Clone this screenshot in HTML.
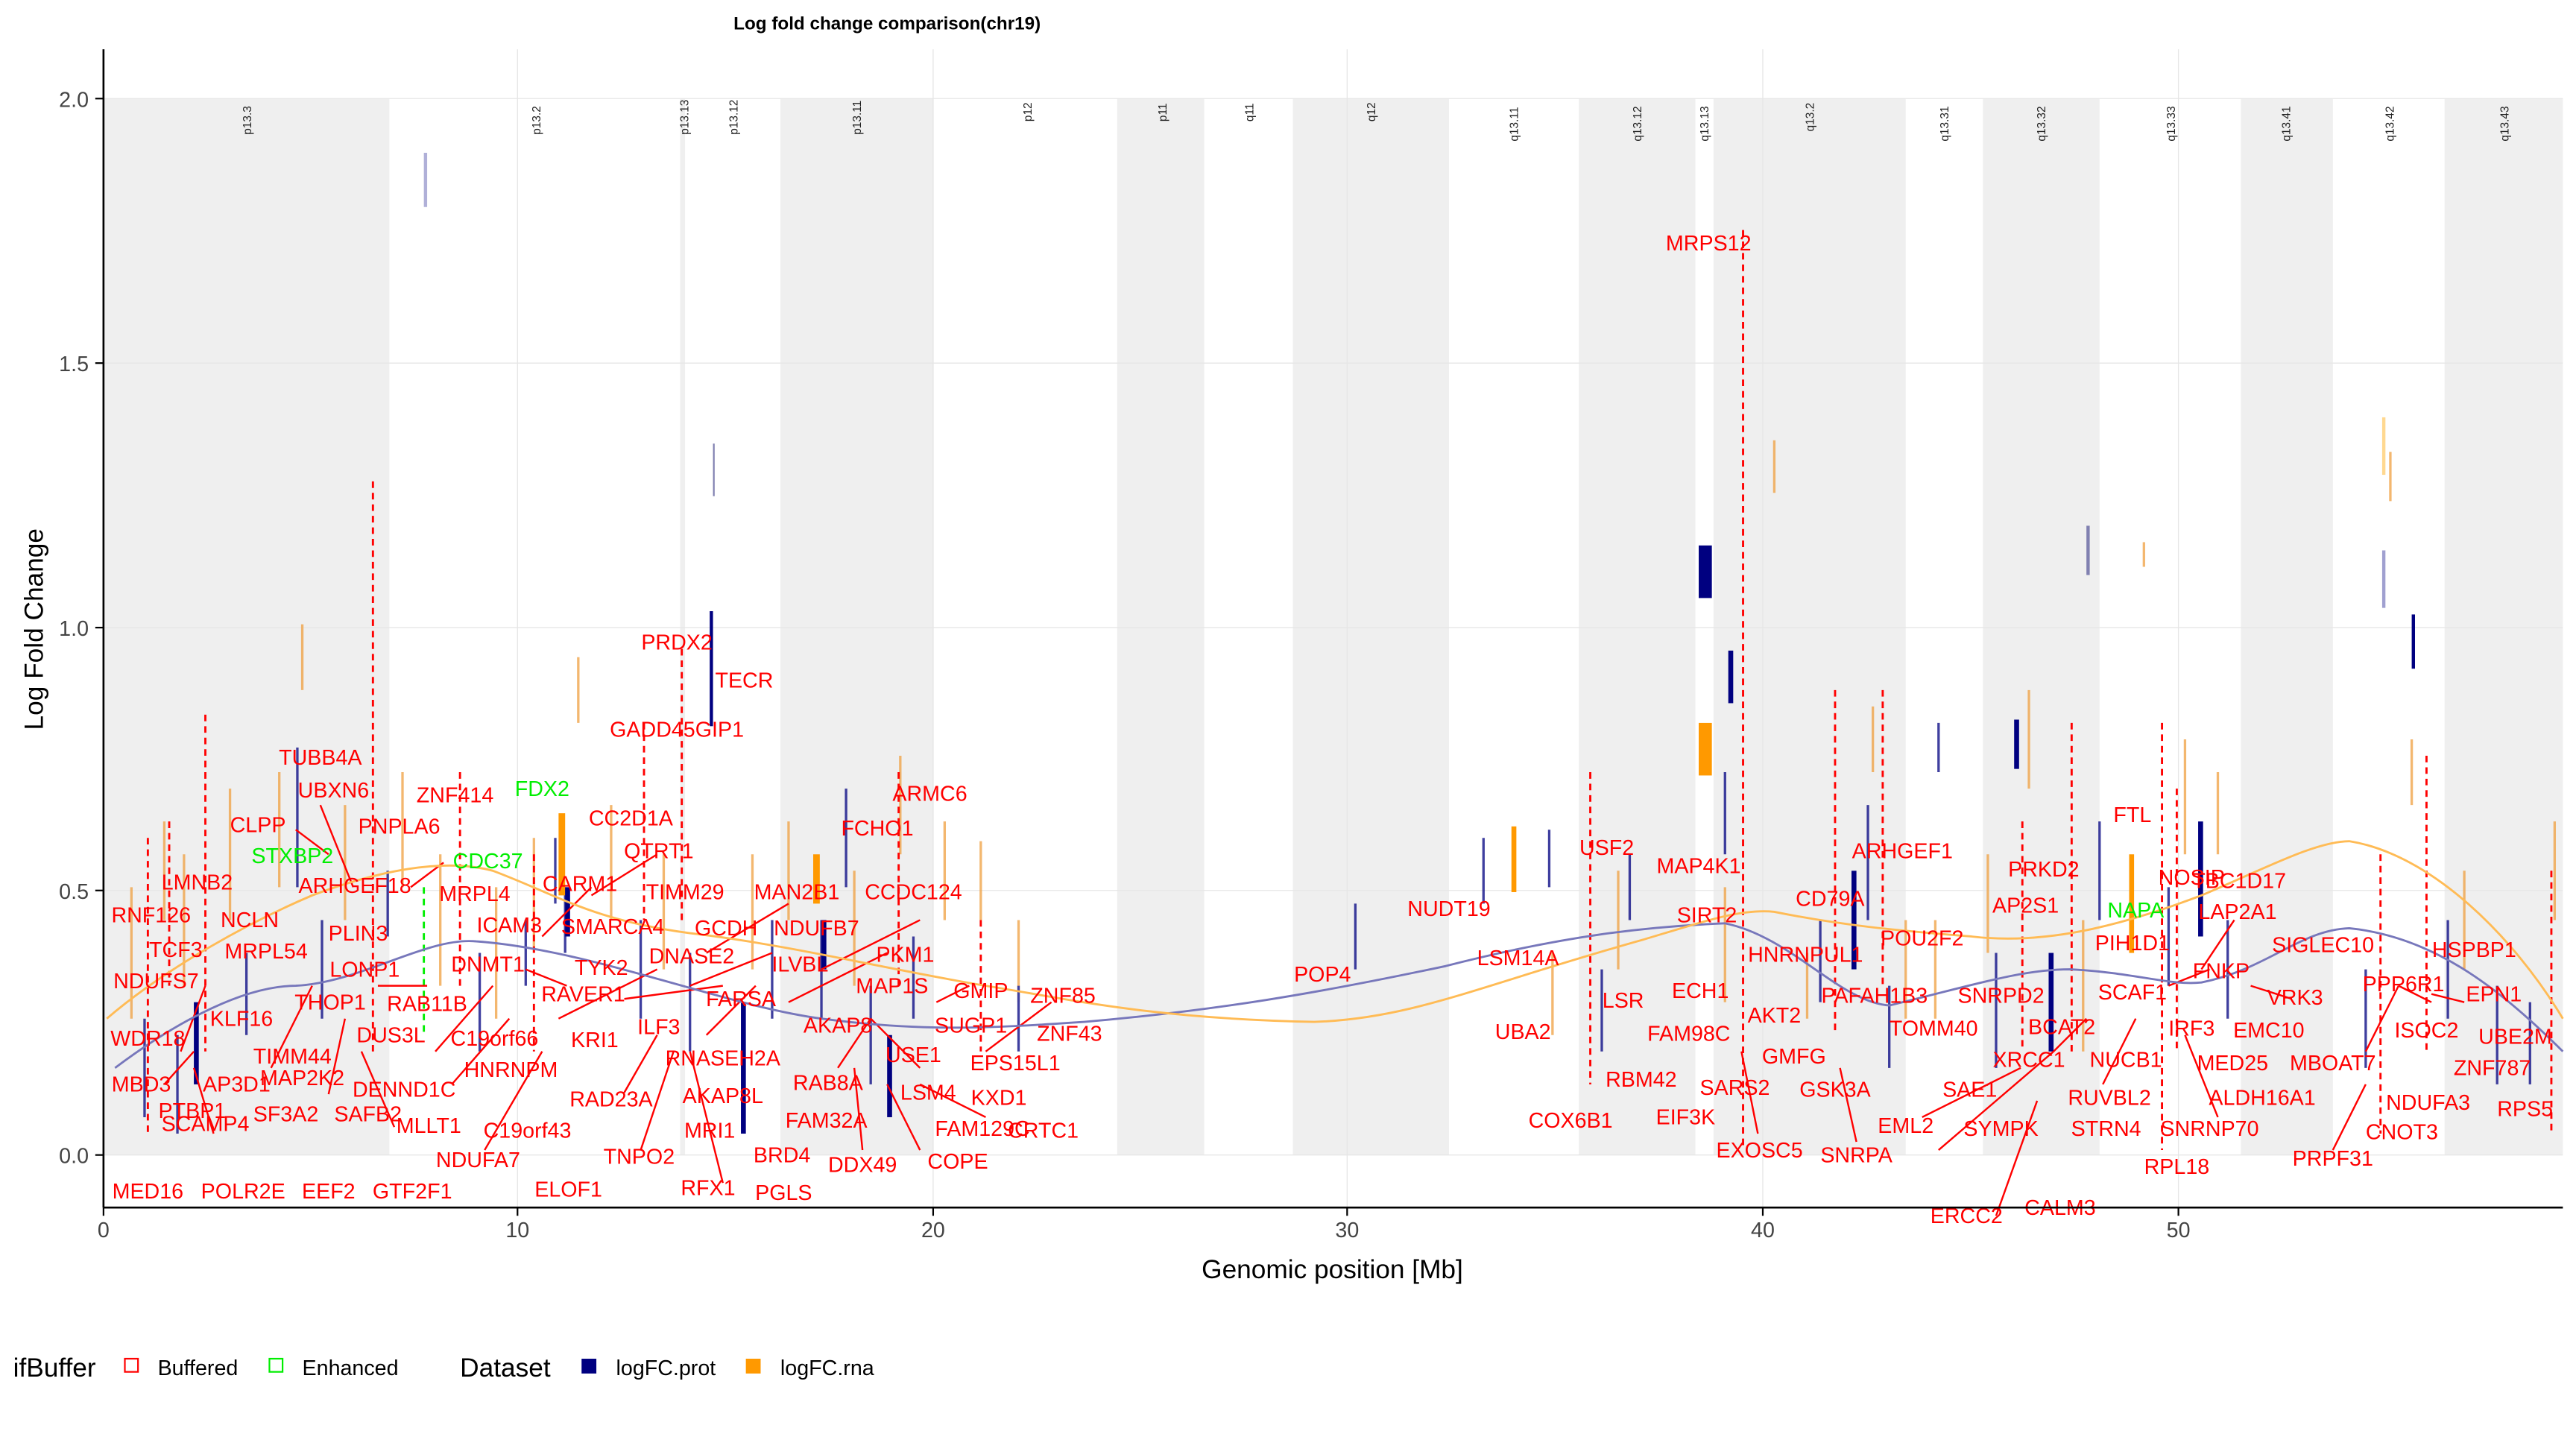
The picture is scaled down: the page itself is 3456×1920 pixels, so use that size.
<!DOCTYPE html>
<html><head><meta charset="utf-8"><style>
html,body{margin:0;padding:0;background:#fff;}
svg{display:block;}
text{font-family:"Liberation Sans",Arial,sans-serif;}
.g{fill:#ff0000;font-size:13px;text-anchor:middle;dominant-baseline:middle;}
.gr{fill:#00ee00;font-size:13px;text-anchor:middle;dominant-baseline:middle;}
.b{font-size:7px;fill:#222;}
.t{font-size:13px;fill:#444;text-anchor:middle;}
</style></head><body>
<svg width="3456" height="1920" viewBox="0 0 1568 871" preserveAspectRatio="none">
<rect width="1568" height="871" fill="#fff"/>
<g fill="#efefef">
<rect x="63" y="60" width="174" height="643"/>
<rect x="414" y="60" width="3" height="643"/>
<rect x="475" y="60" width="93" height="643"/>
<rect x="680" y="60" width="53" height="643"/>
<rect x="787" y="60" width="95" height="643"/>
<rect x="961" y="60" width="71" height="643"/>
<rect x="1043" y="60" width="117" height="643"/>
<rect x="1207" y="60" width="71" height="643"/>
<rect x="1364" y="60" width="56" height="643"/>
<rect x="1488" y="60" width="72" height="643"/>
</g>
<g stroke="#e6e6e6" stroke-width="0.6">
<line x1="63" x2="1560" y1="60" y2="60"/><line x1="63" x2="1560" y1="221" y2="221"/>
<line x1="63" x2="1560" y1="382" y2="382"/><line x1="63" x2="1560" y1="542" y2="542"/>
<line x1="63" x2="1560" y1="703" y2="703"/>
<line x1="315" x2="315" y1="30" y2="735"/><line x1="568" x2="568" y1="30" y2="735"/>
<line x1="820" x2="820" y1="30" y2="735"/><line x1="1073" x2="1073" y1="30" y2="735"/>
<line x1="1326" x2="1326" y1="30" y2="735"/>
</g>
<g class="b">
<text transform="translate(153,82) rotate(-90)">p13.3</text>
<text transform="translate(329,82) rotate(-90)">p13.2</text>
<text transform="translate(419,82) rotate(-90)">p13.13</text>
<text transform="translate(449,82) rotate(-90)">p13.12</text>
<text transform="translate(524,82) rotate(-90)">p13.11</text>
<text transform="translate(628,74) rotate(-90)">p12</text>
<text transform="translate(710,74) rotate(-90)">p11</text>
<text transform="translate(763,74) rotate(-90)">q11</text>
<text transform="translate(837,74) rotate(-90)">q12</text>
<text transform="translate(924,86) rotate(-90)">q13.11</text>
<text transform="translate(999,86) rotate(-90)">q13.12</text>
<text transform="translate(1040,86) rotate(-90)">q13.13</text>
<text transform="translate(1104,80) rotate(-90)">q13.2</text>
<text transform="translate(1186,86) rotate(-90)">q13.31</text>
<text transform="translate(1245,86) rotate(-90)">q13.32</text>
<text transform="translate(1324,86) rotate(-90)">q13.33</text>
<text transform="translate(1394,86) rotate(-90)">q13.41</text>
<text transform="translate(1457,86) rotate(-90)">q13.42</text>
<text transform="translate(1527,86) rotate(-90)">q13.43</text>
</g>
<text x="540" y="18" font-size="11" font-weight="bold" text-anchor="middle">Log fold change comparison(chr19)</text>
<!-- thin faint bars -->
<g stroke-width="1.5" opacity="0.75">
<g stroke="#f0a040">
<line x1="80" y1="540" x2="80" y2="620"/><line x1="100" y1="500" x2="100" y2="560"/><line x1="112" y1="520" x2="112" y2="600"/>
<line x1="140" y1="480" x2="140" y2="560"/><line x1="184" y1="380" x2="184" y2="420"/><line x1="170" y1="470" x2="170" y2="540"/>
<line x1="210" y1="490" x2="210" y2="560"/><line x1="245" y1="470" x2="245" y2="540"/><line x1="268" y1="520" x2="268" y2="600"/>
<line x1="302" y1="540" x2="302" y2="620"/><line x1="325" y1="510" x2="325" y2="580"/><line x1="352" y1="400" x2="352" y2="440"/>
<line x1="372" y1="490" x2="372" y2="560"/><line x1="404" y1="520" x2="404" y2="590"/><line x1="458" y1="520" x2="458" y2="590"/>
<line x1="480" y1="500" x2="480" y2="560"/><line x1="520" y1="530" x2="520" y2="600"/><line x1="548" y1="460" x2="548" y2="520"/>
<line x1="575" y1="500" x2="575" y2="560"/><line x1="620" y1="560" x2="620" y2="610"/><line x1="945" y1="580" x2="945" y2="630"/>
<line x1="985" y1="530" x2="985" y2="590"/><line x1="1050" y1="540" x2="1050" y2="610"/><line x1="1100" y1="580" x2="1100" y2="620"/>
<line x1="1140" y1="430" x2="1140" y2="470"/><line x1="1160" y1="560" x2="1160" y2="620"/><line x1="1178" y1="560" x2="1178" y2="620"/>
<line x1="1210" y1="520" x2="1210" y2="580"/><line x1="1235" y1="420" x2="1235" y2="480"/><line x1="1268" y1="560" x2="1268" y2="640"/>
<line x1="1305" y1="330" x2="1305" y2="345"/><line x1="1330" y1="450" x2="1330" y2="520"/><line x1="1350" y1="470" x2="1350" y2="520"/>
<line x1="1455" y1="275" x2="1455" y2="305"/><line x1="1468" y1="450" x2="1468" y2="490"/><line x1="1500" y1="530" x2="1500" y2="590"/>
<line x1="1555" y1="500" x2="1555" y2="560"/><line x1="1080" y1="268" x2="1080" y2="300"/><line x1="597" y1="512" x2="597" y2="560"/>
</g>
<g stroke="#000080">
<line x1="88" y1="620" x2="88" y2="680"/><line x1="108" y1="630" x2="108" y2="690"/><line x1="150" y1="580" x2="150" y2="630"/>
<line x1="181" y1="455" x2="181" y2="540"/><line x1="196" y1="560" x2="196" y2="620"/><line x1="236" y1="530" x2="236" y2="570"/>
<line x1="292" y1="580" x2="292" y2="640"/><line x1="320" y1="560" x2="320" y2="600"/><line x1="338" y1="510" x2="338" y2="550"/>
<line x1="344" y1="540" x2="344" y2="580"/><line x1="390" y1="560" x2="390" y2="620"/><line x1="420" y1="580" x2="420" y2="640"/>
<line x1="470" y1="560" x2="470" y2="620"/><line x1="500" y1="560" x2="500" y2="620"/><line x1="515" y1="480" x2="515" y2="540"/>
<line x1="530" y1="600" x2="530" y2="660"/><line x1="556" y1="570" x2="556" y2="620"/><line x1="620" y1="600" x2="620" y2="640"/>
<line x1="825" y1="550" x2="825" y2="590"/><line x1="903" y1="510" x2="903" y2="550"/><line x1="943" y1="505" x2="943" y2="540"/>
<line x1="975" y1="590" x2="975" y2="640"/><line x1="992" y1="520" x2="992" y2="560"/><line x1="1050" y1="470" x2="1050" y2="520"/>
<line x1="1108" y1="560" x2="1108" y2="610"/><line x1="1137" y1="490" x2="1137" y2="560"/><line x1="1150" y1="600" x2="1150" y2="650"/>
<line x1="1180" y1="440" x2="1180" y2="470"/><line x1="1215" y1="580" x2="1215" y2="650"/><line x1="1278" y1="500" x2="1278" y2="560"/>
<line x1="1320" y1="540" x2="1320" y2="600"/><line x1="1356" y1="560" x2="1356" y2="620"/><line x1="1440" y1="590" x2="1440" y2="650"/>
<line x1="1490" y1="560" x2="1490" y2="620"/><line x1="1520" y1="600" x2="1520" y2="660"/><line x1="1540" y1="610" x2="1540" y2="660"/>
</g>
</g>
<!-- bars -->
<g>
<rect x="1034" y="332" width="8" height="32" fill="#000080"/>
<rect x="1034" y="440" width="8" height="32" fill="#ff9900"/>
<rect x="1052" y="396" width="3" height="32" fill="#000080"/>
<rect x="920" y="503" width="3" height="40" fill="#ff9900"/>
<rect x="432" y="372" width="2" height="70" fill="#000080"/>
<rect x="1226" y="438" width="3" height="30" fill="#000080"/>
<rect x="1468" y="374" width="2" height="33" fill="#000080"/>
<rect x="495" y="520" width="4" height="30" fill="#ff9900"/>
<rect x="340" y="495" width="4" height="50" fill="#ff9900"/>
<rect x="258" y="93" width="2" height="33" fill="#b0b0d8"/>
<rect x="434" y="270" width="1" height="32" fill="#8080b0"/>
<rect x="1450" y="254" width="2" height="35" fill="#ffd890"/>
<rect x="1450" y="335" width="2" height="35" fill="#a0a0d0"/>
<rect x="1270" y="320" width="2" height="30" fill="#8080b0"/>
<rect x="1127" y="530" width="3" height="60" fill="#000080"/>
<rect x="1296" y="520" width="3" height="60" fill="#ff9900"/>
<rect x="1338" y="500" width="3" height="70" fill="#000080"/>
<rect x="118" y="610" width="3" height="50" fill="#000080"/>
<rect x="451" y="610" width="3" height="80" fill="#000080"/>
<rect x="540" y="630" width="3" height="50" fill="#000080"/>
<rect x="1247" y="580" width="3" height="60" fill="#000080"/>
<rect x="500" y="560" width="3" height="30" fill="#000080"/>
<rect x="344" y="540" width="3" height="30" fill="#000080"/>
</g>
<!-- dashed red lines -->
<g stroke="#ff0000" stroke-width="1.3" stroke-dasharray="4,3" fill="none">
<line x1="227" y1="293" x2="227" y2="640"/>
<line x1="1061" y1="140" x2="1061" y2="700"/>
<line x1="968" y1="470" x2="968" y2="660"/>
<line x1="415" y1="395" x2="415" y2="560"/>
<line x1="125" y1="435" x2="125" y2="640"/>
<line x1="90" y1="510" x2="90" y2="690"/>
<line x1="392" y1="440" x2="392" y2="560"/>
<line x1="1117" y1="420" x2="1117" y2="630"/>
<line x1="1146" y1="420" x2="1146" y2="600"/>
<line x1="1261" y1="440" x2="1261" y2="640"/>
<line x1="1316" y1="440" x2="1316" y2="700"/>
<line x1="1477" y1="460" x2="1477" y2="640"/>
<line x1="1553" y1="530" x2="1553" y2="690"/>
<line x1="547" y1="470" x2="547" y2="600"/>
<line x1="597" y1="560" x2="597" y2="640"/>
<line x1="280" y1="470" x2="280" y2="600"/>
<line x1="1231" y1="500" x2="1231" y2="640"/>
<line x1="1449" y1="520" x2="1449" y2="690"/>
<line x1="103" y1="500" x2="103" y2="600"/>
<line x1="325" y1="520" x2="325" y2="640"/>
<line x1="1325" y1="480" x2="1325" y2="640"/>
</g>
<line x1="258" y1="540" x2="258" y2="630" stroke="#00ee00" stroke-width="1.3" stroke-dasharray="4,3"/>
<!-- leader lines -->
<g stroke="#ff0000" stroke-width="1.1" fill="none">
<path d="M110,640 L125,600"/><path d="M100,660 L118,640"/><path d="M130,690 L118,650"/>
<path d="M165,650 L190,600"/><path d="M200,666 L210,620"/><path d="M240,686 L220,640"/>
<path d="M180,505 L200,520"/><path d="M195,490 L215,540"/><path d="M250,540 L270,525"/>
<path d="M230,600 L260,600"/><path d="M265,640 L300,600"/><path d="M275,660 L310,620"/>
<path d="M295,700 L330,640"/><path d="M320,590 L345,600"/><path d="M330,570 L360,540"/>
<path d="M360,545 L400,520"/><path d="M380,608 L440,600"/><path d="M340,620 L400,590"/>
<path d="M380,665 L400,630"/><path d="M390,700 L410,640"/><path d="M420,600 L470,580"/>
<path d="M430,580 L480,550"/><path d="M430,630 L460,600"/><path d="M440,720 L420,640"/>
<path d="M480,610 L540,580"/><path d="M500,590 L560,560"/><path d="M510,650 L530,620"/>
<path d="M525,700 L520,650"/><path d="M560,650 L530,620"/><path d="M600,640 L640,610"/>
<path d="M570,610 L590,600"/><path d="M560,700 L540,660"/><path d="M600,680 L560,660"/>
<path d="M1070,690 L1060,640"/><path d="M1130,695 L1120,650"/><path d="M1170,680 L1230,650"/>
<path d="M1180,700 L1250,640"/><path d="M1215,740 L1240,670"/><path d="M1250,640 L1270,620"/>
<path d="M1280,660 L1300,620"/><path d="M1320,600 L1345,590"/><path d="M1340,590 L1360,560"/>
<path d="M1370,600 L1395,608"/><path d="M1350,680 L1330,630"/><path d="M1440,640 L1460,600"/>
<path d="M1460,600 L1480,610"/><path d="M1500,610 L1480,605"/><path d="M1420,700 L1440,660"/>
</g>
<!-- curves -->
<path d="M70,650 C110,620 150,600 180,600 C220,598 260,570 290,573 C360,578 440,612 500,620 C560,628 600,626 660,622 C740,615 800,605 880,588 C950,570 1000,564 1050,562 C1090,570 1120,610 1150,612 C1200,600 1230,590 1260,590 C1300,592 1320,600 1340,598 C1380,590 1400,566 1430,565 C1480,570 1520,600 1560,640" fill="none" stroke="#7777bb" stroke-width="1.3"/>
<path d="M65,620 C100,590 150,562 190,545 C230,530 270,522 300,530 C340,545 360,560 420,568 C480,575 540,590 600,600 C650,608 700,620 800,622 C860,620 900,600 1000,572 C1040,560 1060,553 1080,555 C1120,563 1150,566 1200,570 C1250,576 1300,560 1340,545 C1380,528 1410,512 1430,512 C1480,520 1530,570 1560,620" fill="none" stroke="#ffbb55" stroke-width="1.3"/>
<!-- labels -->
<g class="g">
<text x="92" y="558">RNF126</text><text x="120" y="538">LMNB2</text><text x="107" y="579">TCF3</text>
<text x="95" y="598">NDUFS7</text><text x="90" y="633">WDR18</text><text x="86" y="661">MBD3</text>
<text x="90" y="726">MED16</text><text x="117" y="677">PTBP1</text><text x="125" y="685">SCAMP4</text>
<text x="148" y="726">POLR2E</text><text x="144" y="661">AP3D1</text><text x="147" y="621">KLF16</text>
<text x="178" y="644">TIMM44</text><text x="174" y="679">SF3A2</text><text x="184" y="657">MAP2K2</text>
<text x="200" y="726">EEF2</text><text x="224" y="679">SAFB2</text><text x="251" y="726">GTF2F1</text>
<text x="261" y="686">MLLT1</text><text x="246" y="664">DENND1C</text><text x="238" y="631">DUS3L</text>
<text x="260" y="612">RAB11B</text><text x="201" y="611">THOP1</text><text x="222" y="591">LONP1</text>
<text x="218" y="569">PLIN3</text><text x="162" y="580">MRPL54</text><text x="152" y="561">NCLN</text>
<text x="157" y="503">CLPP</text><text x="216" y="540">ARHGEF18</text><text x="203" y="482">UBXN6</text>
<text x="195" y="462">TUBB4A</text><text x="243" y="504">PNPLA6</text><text x="277" y="485">ZNF414</text>
<text x="289" y="545">MRPL4</text><text x="310" y="564">ICAM3</text><text x="297" y="588">DNMT1</text>
<text x="301" y="633">C19orf66</text><text x="311" y="652">HNRNPM</text><text x="291" y="707">NDUFA7</text>
<text x="321" y="689">C19orf43</text><text x="353" y="539">CARM1</text><text x="384" y="499">CC2D1A</text>
<text x="401" y="519">QTRT1</text><text x="417" y="544">TIMM29</text><text x="373" y="565">SMARCA4</text>
<text x="366" y="590">TYK2</text><text x="355" y="606">RAVER1</text><text x="362" y="634">KRI1</text>
<text x="401" y="626">ILF3</text><text x="372" y="670">RAD23A</text><text x="389" y="705">TNPO2</text>
<text x="346" y="725">ELOF1</text><text x="412" y="392">PRDX2</text><text x="412" y="445">GADD45GIP1</text>
<text x="453" y="415">TECR</text><text x="442" y="566">GCDH</text><text x="421" y="583">DNASE2</text>
<text x="451" y="609">FARSA</text><text x="440" y="645">RNASEH2A</text><text x="440" y="668">AKAP8L</text>
<text x="432" y="689">MRI1</text><text x="431" y="724">RFX1</text><text x="485" y="544">MAN2B1</text>
<text x="497" y="566">NDUFB7</text><text x="487" y="588">ILVBL</text><text x="510" y="625">AKAP8</text>
<text x="504" y="660">RAB8A</text><text x="476" y="704">BRD4</text><text x="477" y="727">PGLS</text>
<text x="503" y="683">FAM32A</text><text x="525" y="710">DDX49</text><text x="534" y="505">FCHO1</text>
<text x="566" y="484">ARMC6</text><text x="556" y="544">CCDC124</text><text x="551" y="582">PKM1</text>
<text x="543" y="601">MAP1S</text><text x="556" y="643">USE1</text><text x="565" y="666">LSM4</text>
<text x="598" y="688">FAM129C</text><text x="608" y="669">KXD1</text><text x="583" y="708">COPE</text>
<text x="635" y="689">CRTC1</text><text x="618" y="648">EPS15L1</text><text x="591" y="625">SUGP1</text>
<text x="597" y="604">GMIP</text><text x="647" y="607">ZNF85</text><text x="651" y="630">ZNF43</text>
<text x="805" y="594">POP4</text><text x="882" y="554">NUDT19</text><text x="924" y="584">LSM14A</text>
<text x="927" y="629">UBA2</text><text x="978" y="517">USF2</text><text x="988" y="610">LSR</text>
<text x="999" y="658">RBM42</text><text x="956" y="683">COX6B1</text><text x="1040" y="149">MRPS12</text>
<text x="1034" y="528">MAP4K1</text><text x="1039" y="558">SIRT2</text><text x="1035" y="604">ECH1</text>
<text x="1028" y="630">FAM98C</text><text x="1080" y="619">AKT2</text><text x="1056" y="663">SARS2</text>
<text x="1026" y="681">EIF3K</text><text x="1092" y="644">GMFG</text><text x="1117" y="664">GSK3A</text>
<text x="1099" y="582">HNRNPUL1</text><text x="1114" y="548">CD79A</text><text x="1071" y="701">EXOSC5</text>
<text x="1130" y="704">SNRPA</text><text x="1141" y="607">PAFAH1B3</text><text x="1170" y="572">POU2F2</text>
<text x="1158" y="519">ARHGEF1</text><text x="1177" y="627">TOMM40</text><text x="1218" y="607">SNRPD2</text>
<text x="1160" y="686">EML2</text><text x="1197" y="741">ERCC2</text><text x="1199" y="664">SAE1</text>
<text x="1235" y="646">XRCC1</text><text x="1218" y="688">SYMPK</text><text x="1254" y="736">CALM3</text>
<text x="1255" y="626">BCAT2</text><text x="1284" y="669">RUVBL2</text><text x="1282" y="688">STRN4</text>
<text x="1294" y="646">NUCB1</text><text x="1244" y="530">PRKD2</text><text x="1233" y="552">AP2S1</text>
<text x="1298" y="575">PIH1D1</text><text x="1298" y="605">SCAF1</text><text x="1298" y="497">FTL</text>
<text x="1334" y="535">NOSIP</text><text x="1363" y="537">TBC1D17</text><text x="1362" y="556">LAP2A1</text>
<text x="1352" y="592">FNKP</text><text x="1334" y="627">IRF3</text><text x="1359" y="648">MED25</text>
<text x="1377" y="669">ALDH16A1</text><text x="1345" y="688">SNRNP70</text><text x="1325" y="711">RPL18</text>
<text x="1397" y="608">VRK3</text><text x="1381" y="628">EMC10</text><text x="1414" y="576">SIGLEC10</text>
<text x="1420" y="648">MBOAT7</text><text x="1420" y="706">PRPF31</text><text x="1462" y="690">CNOT3</text>
<text x="1478" y="672">NDUFA3</text><text x="1477" y="628">ISOC2</text><text x="1463" y="600">PPP6R1</text>
<text x="1506" y="579">HSPBP1</text><text x="1518" y="606">EPN1</text><text x="1531" y="632">UBE2M</text>
<text x="1517" y="651">ZNF787</text><text x="1537" y="676">RPS5</text>
</g>
<g class="gr">
<text x="178" y="522">STXBP2</text><text x="297" y="525">CDC37</text><text x="330" y="481">FDX2</text><text x="1300" y="555">NAPA</text>
</g>
<!-- axes -->
<line x1="63" y1="30" x2="63" y2="735" stroke="#000" stroke-width="1.2"/>
<line x1="63" y1="735" x2="1560" y2="735" stroke="#000" stroke-width="1.2"/>
<g stroke="#000" stroke-width="1">
<line x1="58" x2="63" y1="60" y2="60"/><line x1="58" x2="63" y1="221" y2="221"/>
<line x1="58" x2="63" y1="382" y2="382"/><line x1="58" x2="63" y1="542" y2="542"/>
<line x1="58" x2="63" y1="703" y2="703"/>
<line x1="63" x2="63" y1="735" y2="740"/><line x1="315" x2="315" y1="735" y2="740"/>
<line x1="568" x2="568" y1="735" y2="740"/><line x1="820" x2="820" y1="735" y2="740"/>
<line x1="1073" x2="1073" y1="735" y2="740"/><line x1="1326" x2="1326" y1="735" y2="740"/>
</g>
<g font-size="13" fill="#444" text-anchor="end">
<text x="54" y="65">2.0</text><text x="54" y="226">1.5</text><text x="54" y="387">1.0</text>
<text x="54" y="547">0.5</text><text x="54" y="708">0.0</text>
</g>
<g class="t">
<text x="63" y="753">0</text><text x="315" y="753">10</text><text x="568" y="753">20</text>
<text x="820" y="753">30</text><text x="1073" y="753">40</text><text x="1326" y="753">50</text>
</g>
<text x="811" y="778" font-size="16" text-anchor="middle">Genomic position [Mb]</text>
<text transform="translate(26,383) rotate(-90)" font-size="16" text-anchor="middle">Log Fold Change</text>
<!-- legend -->
<g font-size="13">
<text x="8" y="838" font-size="16">ifBuffer</text>
<rect x="76" y="827" width="8" height="8" fill="none" stroke="#ff0000"/>
<text x="96" y="837">Buffered</text>
<rect x="164" y="827" width="8" height="8" fill="none" stroke="#00ee00"/>
<text x="184" y="837">Enhanced</text>
<text x="280" y="838" font-size="16">Dataset</text>
<rect x="354" y="827" width="9" height="9" fill="#000080"/>
<text x="375" y="837">logFC.prot</text>
<rect x="454" y="827" width="9" height="9" fill="#ff9900"/>
<text x="475" y="837">logFC.rna</text>
</g>
</svg>
</body></html>
